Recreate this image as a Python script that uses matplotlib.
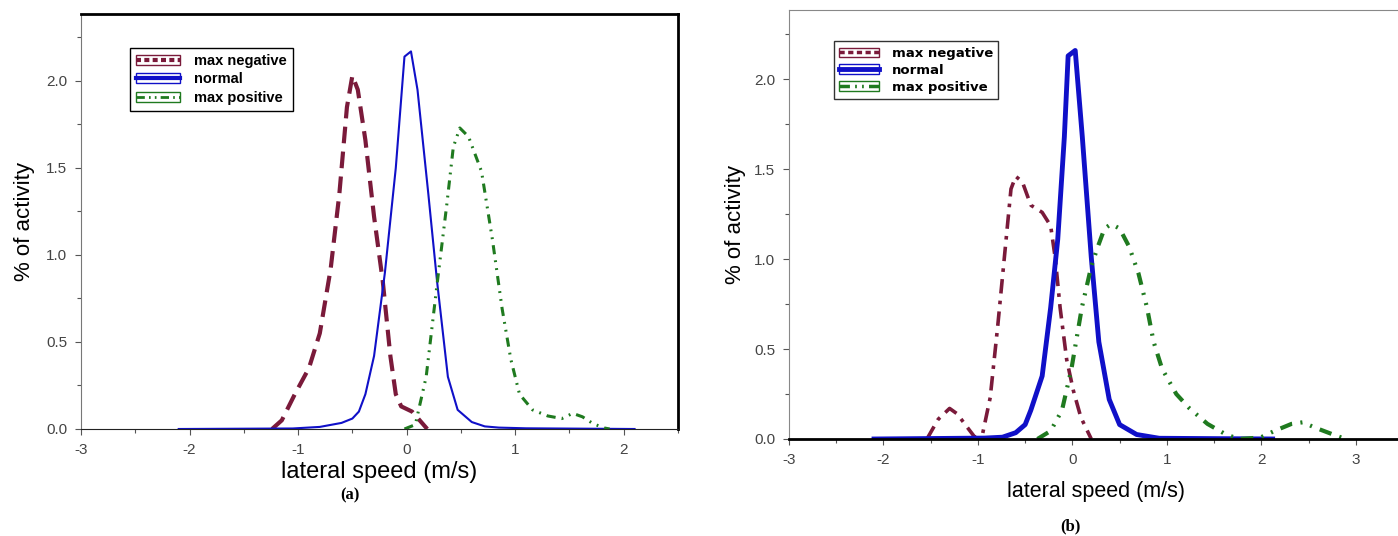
import numpy as np
import matplotlib
matplotlib.use('Agg')
import matplotlib.pyplot as plt
from matplotlib.lines import Line2D
from matplotlib.patches import Patch
from matplotlib.ticker import MultipleLocator

plt.rcParams['font.family'] = ['Liberation Sans', 'DejaVu Sans']

# panel (a) curves
a_neg_x = [-1.24, -1.15, -1.03, -0.9, -0.8, -0.7, -0.62, -0.55, -0.5, -0.45, -0.38, -0.3, -0.22, -0.15, -0.1, -0.05, 0.05, 0.12, 0.19]
a_neg_y = [0, 0.05, 0.2, 0.35, 0.55, 0.92, 1.35, 1.85, 2.03, 1.95, 1.66, 1.22, 0.85, 0.42, 0.2, 0.13, 0.1, 0.05, 0]
a_norm_x = [-2.1, -1.05, -0.8, -0.6, -0.5, -0.44, -0.38, -0.3, -0.2, -0.1, -0.02, 0.04, 0.1, 0.2, 0.28, 0.38, 0.47, 0.6, 0.72, 0.85, 1.1, 2.1]
a_norm_y = [0, 0.003, 0.012, 0.035, 0.06, 0.1, 0.2, 0.42, 0.9, 1.5, 2.14, 2.17, 1.95, 1.35, 0.85, 0.3, 0.11, 0.04, 0.015, 0.008, 0.004, 0]
a_pos_x = [-0.02, 0.08, 0.18, 0.28, 0.37, 0.43, 0.49, 0.57, 0.69, 0.79, 0.88, 0.96, 1.04, 1.16, 1.3, 1.43, 1.53, 1.62, 1.72, 1.82, 1.87]
a_pos_y = [0, 0.025, 0.3, 0.83, 1.29, 1.62, 1.73, 1.68, 1.48, 1.09, 0.69, 0.4, 0.2, 0.11, 0.075, 0.06, 0.09, 0.07, 0.03, 0.006, 0]

# panel (b) curves
b_neg_x = [-1.54, -1.42, -1.3, -1.22, -1.12, -1.03, -0.95, -0.87, -0.79, -0.72, -0.65, -0.6, -0.53, -0.44, -0.32, -0.23, -0.18, -0.13, -0.06, 0.01, 0.09, 0.2]
b_neg_y = [0, 0.11, 0.17, 0.14, 0.07, 0.008, 0.03, 0.23, 0.63, 1.01, 1.39, 1.46, 1.43, 1.3, 1.26, 1.185, 1.0, 0.73, 0.44, 0.27, 0.12, 0]
b_norm_x = [-2.1, -0.93, -0.74, -0.6, -0.5, -0.44, -0.32, -0.23, -0.155, -0.085, -0.045, 0.03, 0.105, 0.2, 0.28, 0.39, 0.5, 0.68, 0.92, 2.12]
b_norm_y = [0, 0.005, 0.01, 0.035, 0.08, 0.16, 0.35, 0.73, 1.11, 1.68, 2.13, 2.16, 1.68, 1.01, 0.54, 0.22, 0.08, 0.025, 0.004, 0]
b_pos_x = [-0.37, -0.23, -0.11, -0.01, 0.1, 0.2, 0.27, 0.34, 0.41, 0.5, 0.6, 0.7, 0.79, 0.86, 0.95, 1.1, 1.24, 1.43, 1.62, 1.76, 1.99, 2.14, 2.32, 2.44, 2.56, 2.75, 2.89]
b_pos_y = [0, 0.045, 0.16, 0.39, 0.73, 0.96, 1.07, 1.17, 1.195, 1.17, 1.07, 0.92, 0.73, 0.54, 0.39, 0.25, 0.17, 0.084, 0.027, 0, 0.008, 0.045, 0.084, 0.093, 0.065, 0.027, 0]

labels = ['max negative', 'normal', 'max positive']
maroon = '#7a1a3a'
blue = '#1010c8'
green = '#1f7a1f'

W, H = 1398, 536
fig = plt.figure(figsize=(W / 100, H / 100), dpi=100)

def px_axes(l, r, t, b):
    return fig.add_axes([l / W, (H - b) / H, (r - l) / W, (b - t) / H])

def style_axes(ax, xmax, ytop):
    ax.set_xlim(-3, xmax)
    ax.set_ylim(0, ytop)
    ax.xaxis.set_major_locator(MultipleLocator(1))
    ax.xaxis.set_minor_locator(MultipleLocator(0.5))
    ax.yaxis.set_major_locator(MultipleLocator(0.5))
    ax.yaxis.set_minor_locator(MultipleLocator(0.25))
    ax.xaxis.set_major_formatter(matplotlib.ticker.FuncFormatter(lambda v, p: '%d' % v))
    ax.yaxis.set_major_formatter(matplotlib.ticker.FuncFormatter(lambda v, p: '%.1f' % v))
    ax.tick_params(which='both', direction='out', length=4, width=0.8, color='#555555')
    ax.tick_params(which='major', labelsize=11, labelcolor='#444444', pad=6)
    ax.tick_params(which='minor', length=3)

# ---- panel (a)
ax1 = px_axes(81, 678, 14, 429)
style_axes(ax1, 2.5, 2.385)
ax1.plot(a_neg_x, a_neg_y, color=maroon, lw=3, ls=(0, (4, 2)))
ax1.plot(a_norm_x, a_norm_y, color=blue, lw=1.5)
ax1.plot(a_pos_x, a_pos_y, color=green, lw=2.2, ls=(0, (3, 2, 0.6, 2, 0.6, 2)))
ax1.spines['left'].set_color('#777777')
ax1.spines['bottom'].set_color('#222222')
ax1.spines['top'].set_linewidth(2)
ax1.spines['right'].set_linewidth(2)
ax1.set_xlabel('lateral speed (m/s)', fontsize=17, labelpad=3)
ax1.set_ylabel('% of activity', fontsize=16, labelpad=8)

h1 = [(Patch(facecolor='white', edgecolor=maroon, lw=1), Line2D([], [], color=maroon, lw=3, ls=(0, (1.2, 0.8)))),
      (Patch(facecolor='white', edgecolor=blue, lw=1), Line2D([], [], color=blue, lw=3)),
      (Patch(facecolor='white', edgecolor=green, lw=1), Line2D([], [], color=green, lw=2, ls=(0, (3, 1.5, 0.6, 1.5, 0.6, 1.5))))]
leg1 = ax1.legend(h1, labels, loc='upper left', bbox_to_anchor=(0.07, 0.935), frameon=True,
                  fancybox=False, edgecolor='black', framealpha=1, borderpad=0.4,
                  labelspacing=0.3, handlelength=3, handletextpad=1.0,
                  prop={'weight': 'bold', 'size': 10.5})
leg1.get_frame().set_linewidth(1)

# ---- panel (b)
ax2 = px_axes(789, 1403, 10, 439)
style_axes(ax2, 3.5, 2.385)
ax2.plot(b_neg_x, b_neg_y, color=maroon, lw=2.6, ls=(0, (4, 2, 1, 2)))
ax2.plot(b_norm_x, b_norm_y, color=blue, lw=3.5)
ax2.plot(b_pos_x, b_pos_y, color=green, lw=3, ls=(0, (3, 2, 0.5, 2, 0.5, 2)))
for s in ['left', 'top']:
    ax2.spines[s].set_color('#888888')
ax2.spines['bottom'].set_linewidth(2)
ax2.spines['right'].set_visible(False)
ax2.set_xlabel('lateral speed (m/s)', fontsize=15.5, labelpad=10)
ax2.set_ylabel('% of activity', fontsize=16, labelpad=6)

h2 = [(Patch(facecolor='white', edgecolor=maroon, lw=1), Line2D([], [], color=maroon, lw=2.5, ls=(0, (1.5, 1)))),
      (Patch(facecolor='white', edgecolor=blue, lw=1), Line2D([], [], color=blue, lw=3.5)),
      (Patch(facecolor='white', edgecolor=green, lw=1), Line2D([], [], color=green, lw=2.5, ls=(0, (3, 1.5, 0.5, 1.5, 0.5, 1.5))))]
leg2 = ax2.legend(h2, labels, loc='upper left', bbox_to_anchor=(0.062, 0.942), frameon=True,
                  fancybox=False, edgecolor='#333333', framealpha=1, borderpad=0.4,
                  labelspacing=0.3, handlelength=3, handletextpad=1.0,
                  prop={'family': 'DejaVu Sans', 'weight': 'bold', 'size': 9.5})
leg2.get_frame().set_linewidth(1)

# captions
fig.text(350 / W, 1 - 495 / H, '(a)', ha='center', va='center', fontsize=12,
         family='Liberation Serif', weight='bold')
fig.text(1070 / W, 1 - 526 / H, '(b)', ha='center', va='center', fontsize=12,
         family='Liberation Serif', weight='bold')

plt.savefig('out.png', dpi=100)
